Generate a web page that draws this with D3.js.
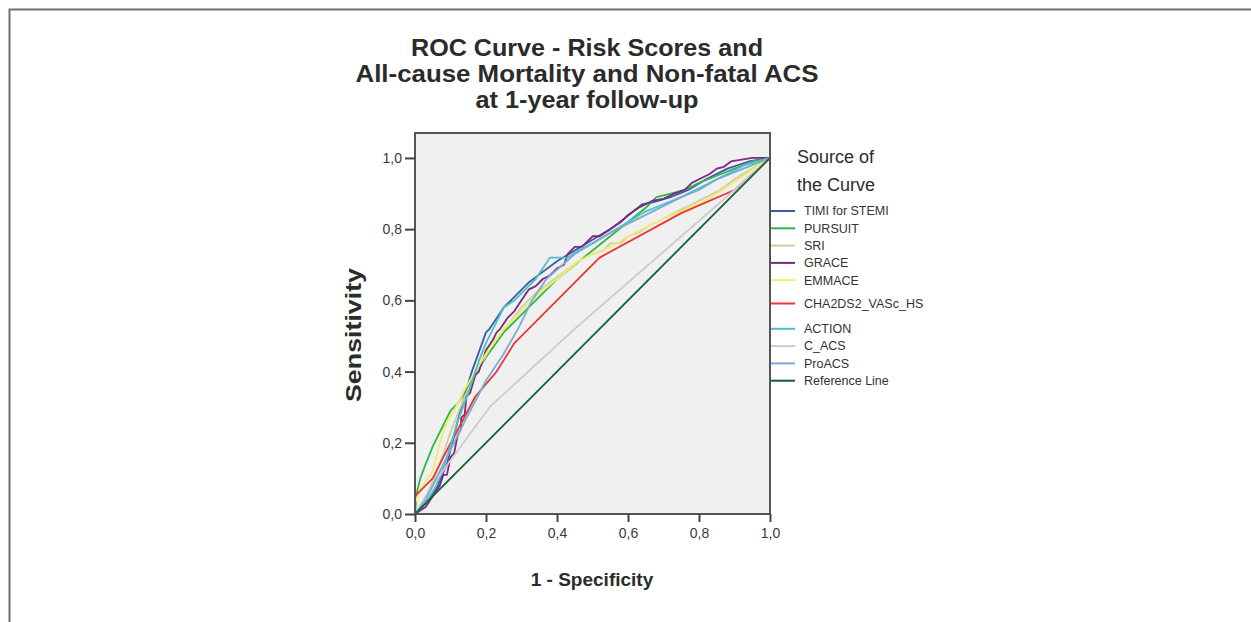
<!DOCTYPE html>
<meta charset="utf-8">
<head>
    <title>ROC Curve - Risk Scores</title>
</head>
<style>
    body { margin: 0; background: #fff; }
    text { font-family: "Liberation Sans", Arial, sans-serif; fill: #2b2b2b; }
    .tick text { font-size: 14px; fill: #3a3a3a; }
    .tick line { stroke: #444; stroke-width: 2px; }
    .curve { fill: none; stroke-width: 1.8px; stroke-linejoin: round; }
</style>
<svg width="1251" height="622"></svg>
<script src="https://d3js.org/d3.v7.min.js"></script>
<script>

    // title lines
    var titleLines = ["ROC Curve - Risk Scores and", "All-cause Mortality and Non-fatal ACS", "at 1-year follow-up"];
    var tickValues = [0, 0.2, 0.4, 0.6, 0.8, 1.0];

    // curve names and colours, in legend order
    var names = ["TIMI for STEMI", "PURSUIT", "SRI", "GRACE", "EMMACE", "CHA2DS2_VASc_HS", "ACTION", "C_ACS", "ProACS", "Reference Line"];
    var colors = ["#3E58AC", "#2EB848", "#D3CE97", "#7C287D", "#F2EE6A", "#EF3338", "#48C2C5", "#CCCCCC", "#7AAAD5", "#11603A"];

    // [1 - specificity, sensitivity]
    var timi = [[0,0],[0.03,0.03],[0.06,0.07],[0.09,0.14],[0.11,0.22],[0.13,0.3],[0.16,0.4],[0.2,0.51],[0.21,0.52],[0.25,0.58],[0.28,0.61],[0.32,0.65],[0.36,0.68],[0.4,0.71],[0.45,0.74],[0.5,0.77],[0.55,0.8],[0.59,0.83],[0.64,0.87],[0.67,0.875],[0.72,0.89],[0.77,0.91],[0.82,0.94],[0.88,0.97],[0.94,0.99],[1,1]];
    var pursuit = [[0,0],[0.005,0.06],[0.015,0.1],[0.03,0.14],[0.05,0.19],[0.08,0.25],[0.1,0.29],[0.12,0.31],[0.15,0.36],[0.2,0.44],[0.25,0.51],[0.3,0.56],[0.35,0.61],[0.4,0.66],[0.45,0.7],[0.5,0.74],[0.55,0.78],[0.6,0.82],[0.65,0.86],[0.68,0.89],[0.72,0.9],[0.76,0.91],[0.8,0.93],[0.85,0.95],[0.9,0.97],[0.95,0.99],[1,1]];
    var sri = [[0,0],[0.02,0.03],[0.05,0.09],[0.08,0.17],[0.1,0.23],[0.14,0.33],[0.18,0.41],[0.22,0.48],[0.26,0.53],[0.3,0.58],[0.34,0.62],[0.38,0.65],[0.42,0.68],[0.46,0.71],[0.5,0.73],[0.53,0.74],[0.55,0.76],[0.58,0.76],[0.6,0.78],[0.63,0.79],[0.66,0.81],[0.7,0.83],[0.74,0.85],[0.78,0.87],[0.82,0.89],[0.86,0.91],[0.9,0.94],[0.95,0.97],[1,1]];
    var grace = [[0,0],[0.03,0.02],[0.05,0.05],[0.07,0.08],[0.08,0.11],[0.09,0.11],[0.1,0.16],[0.11,0.17],[0.12,0.22],[0.13,0.24],[0.13,0.27],[0.14,0.28],[0.145,0.33],[0.155,0.34],[0.17,0.39],[0.18,0.4],[0.2,0.46],[0.22,0.49],[0.23,0.51],[0.24,0.52],[0.26,0.55],[0.28,0.57],[0.3,0.6],[0.32,0.63],[0.34,0.64],[0.36,0.66],[0.38,0.67],[0.4,0.69],[0.42,0.7],[0.43,0.73],[0.45,0.75],[0.47,0.75],[0.5,0.78],[0.52,0.78],[0.55,0.8],[0.58,0.82],[0.6,0.84],[0.63,0.86],[0.67,0.88],[0.7,0.885],[0.73,0.9],[0.76,0.91],[0.78,0.93],[0.8,0.94],[0.83,0.955],[0.85,0.97],[0.87,0.975],[0.89,0.99],[0.92,0.995],[0.95,1],[1,1]];
    var emmace = [[0,0],[0,0.03],[0.015,0.07],[0.05,0.12],[0.07,0.2],[0.09,0.26],[0.11,0.29],[0.14,0.35],[0.17,0.4],[0.2,0.45],[0.25,0.52],[0.3,0.57],[0.35,0.62],[0.4,0.66],[0.46,0.71],[0.5,0.73],[0.55,0.75],[0.6,0.78],[0.65,0.805],[0.7,0.83],[0.75,0.85],[0.82,0.88],[0.88,0.92],[0.94,0.96],[1,1]];
    var cha2ds2 = [[0,0],[0,0.05],[0.05,0.1],[0.08,0.16],[0.17,0.33],[0.23,0.4],[0.28,0.48],[0.47,0.67],[0.52,0.72],[0.75,0.845],[0.9,0.91],[1,1]];
    var action = [[0,0],[0.03,0.03],[0.06,0.08],[0.08,0.13],[0.1,0.19],[0.12,0.26],[0.15,0.34],[0.18,0.43],[0.2,0.48],[0.23,0.54],[0.25,0.58],[0.28,0.6],[0.31,0.63],[0.34,0.66],[0.38,0.72],[0.43,0.72],[0.46,0.74],[0.5,0.76],[0.55,0.79],[0.6,0.82],[0.65,0.85],[0.7,0.87],[0.75,0.89],[0.8,0.91],[0.85,0.94],[0.9,0.96],[0.95,0.98],[1,1]];
    var cacs = [[0,0],[0.05,0.08],[0.1,0.15],[0.21,0.3],[0.33,0.41],[0.45,0.52],[0.6,0.65],[0.75,0.78],[0.9,0.91],[1,1]];
    var proacs = [[0,0],[0.03,0.04],[0.05,0.08],[0.08,0.14],[0.14,0.26],[0.2,0.375],[0.25,0.45],[0.29,0.52],[0.33,0.6],[0.37,0.66],[0.45,0.73],[0.55,0.79],[0.65,0.84],[0.75,0.89],[0.85,0.94],[0.93,0.98],[1,1]];
    var reference = [[0,0],[1,1]];

    var curves = [timi, pursuit, sri, grace, emmace, cha2ds2, action, cacs, proacs, reference];

    var svg = d3.select("svg");
    var comma = d3.formatLocale({decimal: ",", thousands: ".", grouping: [3], currency: ["", ""]}).format(".1f");

    var plotLeft = 415, plotRight = 770, plotTop = 133, plotBottom = 514;
    var x = d3.scaleLinear().domain([0, 1]).range([plotLeft, plotRight]);
    var y = d3.scaleLinear().domain([0, 1.07]).range([plotBottom, plotTop]);

    // outer page frame
    svg.append("rect")
        .attr("x", 9.5).attr("y", 9.5).attr("width", 1400).attr("height", 800)
        .attr("fill", "none").attr("stroke", "#707070").attr("stroke-width", 2);

    // plot background
    svg.append("rect")
        .attr("x", plotLeft).attr("y", plotTop).attr("width", plotRight - plotLeft).attr("height", plotBottom - plotTop)
        .attr("fill", "#F0F0F0");

    var line = d3.line().x(function(d) { return x(d[0]); }).y(function(d) { return y(d[1]); });

    var plot = svg.append("g");
    curves.forEach(function(c, i) {
        plot.append("path")
            .datum(c)
            .attr("class", "curve")
            .attr("stroke", colors[i])
            .attr("stroke-width", i === 9 ? 2 : 1.8)
            .attr("d", line);
    });

    // frame
    svg.append("rect")
        .attr("x", plotLeft).attr("y", plotTop).attr("width", plotRight - plotLeft).attr("height", plotBottom - plotTop)
        .attr("fill", "none").attr("stroke", "#555").attr("stroke-width", 2);

    var yAxis = svg.append("g")
        .attr("transform", "translate(" + plotLeft + ",0)")
        .call(d3.axisLeft(y).tickValues(tickValues).tickFormat(comma).tickSize(10).tickSizeOuter(0).tickPadding(3));
    yAxis.select(".domain").remove();

    var xAxis = svg.append("g")
        .attr("transform", "translate(0," + plotBottom + ")")
        .call(d3.axisBottom(x).tickValues(tickValues).tickFormat(comma).tickSize(8).tickSizeOuter(0).tickPadding(6));
    xAxis.select(".domain").remove();

    // title
    var titleWidths = [352, 463, 223];
    svg.append("g").selectAll("text")
        .data(titleLines)
        .enter().append("text")
        .attr("x", 587)
        .attr("y", function(d, i) { return 56 + i * 26; })
        .attr("text-anchor", "middle")
        .attr("textLength", function(d, i) { return titleWidths[i]; })
        .attr("lengthAdjust", "spacingAndGlyphs")
        .style("font-size", "24px")
        .style("font-weight", "bold")
        .text(function(d) { return d; });

    // axis titles
    svg.append("text")
        .attr("transform", "translate(361,335) rotate(-90)")
        .attr("text-anchor", "middle")
        .attr("textLength", 134)
        .attr("lengthAdjust", "spacingAndGlyphs")
        .style("font-size", "22px")
        .style("font-weight", "bold")
        .text("Sensitivity");

    svg.append("text")
        .attr("x", 592).attr("y", 586)
        .attr("text-anchor", "middle")
        .style("font-size", "19px")
        .style("font-weight", "bold")
        .text("1 - Specificity");

    // legend
    svg.append("text").attr("x", 797).attr("y", 163).style("font-size", "18px").text("Source of");
    svg.append("text").attr("x", 797).attr("y", 191).style("font-size", "18px").text("the Curve");

    var legend = svg.append("g").selectAll("g")
        .data(names)
        .enter().append("g")
        .attr("transform", function(d, i) {
            var ly = 211 + i * 17.3 + (i >= 5 ? 6 : 0) + (i >= 6 ? 8 : 0);
            return "translate(0," + ly + ")";
        });

    legend.append("line")
        .attr("x1", 771).attr("x2", 795)
        .attr("stroke", function(d, i) { return colors[i]; })
        .attr("stroke-width", 2);

    legend.append("text")
        .attr("x", 804)
        .attr("dy", "0.35em")
        .style("font-size", "12.5px")
        .style("fill", "#333")
        .text(function(d) { return d; });

</script>
